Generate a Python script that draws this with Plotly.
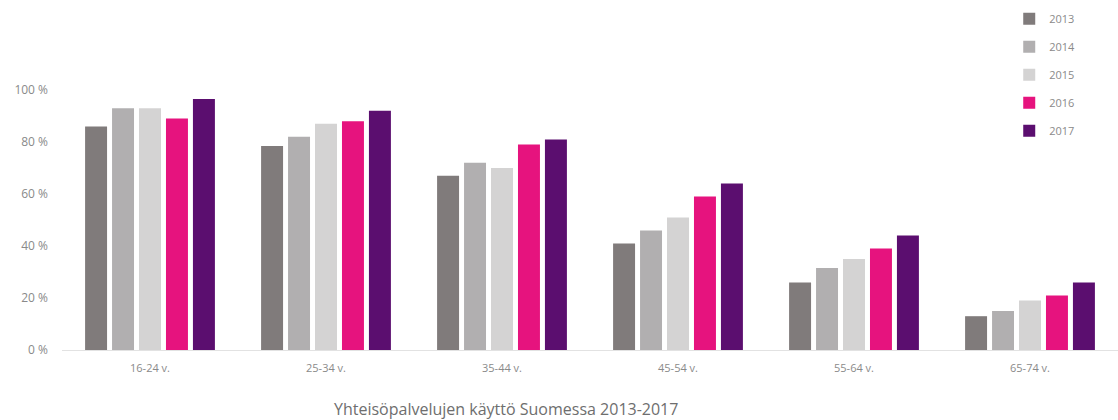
import plotly.graph_objects as go

categories = ["16-24 v.", "25-34 v.", "35-44 v.", "45-54 v.", "55-64 v.", "65-74 v."]
years = ["2013", "2014", "2015", "2016", "2017"]
v2013 = [86, 78.5, 67, 41, 26, 13]
v2014 = [93, 82, 72, 46, 31.5, 15]
v2015 = [93, 87, 70, 51, 35, 19]
v2016 = [89, 88, 79, 59, 39, 21]
v2017 = [96.5, 92, 81, 64, 44, 26]
series = [v2013, v2014, v2015, v2016, v2017]
colors = ["#807b7b", "#b1afb0", "#d4d3d3", "#e6137e", "#5b0e6f"]

title_text = "Yhteisöpalvelujen käyttö Suomessa 2013-2017"

fig = go.Figure()
for name, vals, col in zip(years, series, colors):
    fig.add_trace(go.Bar(
        x=categories, y=vals, name=name, legendgroup=name,
        marker=dict(color=col, line=dict(width=0)),
    ))

fig.update_layout(
    width=1118, height=420,
    margin=dict(l=62, r=0, t=90, b=70),
    paper_bgcolor="white", plot_bgcolor="white",
    barmode="group", bargap=0.234, bargroupgap=0.185,
    font=dict(family="Open Sans, sans-serif", color="#8a8a8a", size=11),
    showlegend=True,
    legend=dict(
        x=0.897, xanchor="left", y=1.33, yanchor="top",
        traceorder="grouped", tracegroupgap=9,
        font=dict(size=11, color="#8a8a8a"),
        itemwidth=30, bgcolor="rgba(0,0,0,0)",
    ),
    xaxis=dict(
        showgrid=False, showline=True, linecolor="#e2e2e2", linewidth=1,
        ticks="", tickfont=dict(size=11, color="#8a8a8a"), ticklabelstandoff=8,
    ),
    yaxis=dict(
        range=[0, 100], dtick=20, ticksuffix=" %", showgrid=False,
        zeroline=False, showline=False, ticks="",
        tickfont=dict(size=12, color="#8a8a8a"), ticklabelstandoff=13,
    ),
    annotations=[dict(
        text=title_text, x=0.42, xref="paper", y=-0.225, yref="paper",
        xanchor="center", yanchor="middle", showarrow=False,
        font=dict(size=16, color="#6e6e6e"),
    )],
)

fig.write_html("out.html")
